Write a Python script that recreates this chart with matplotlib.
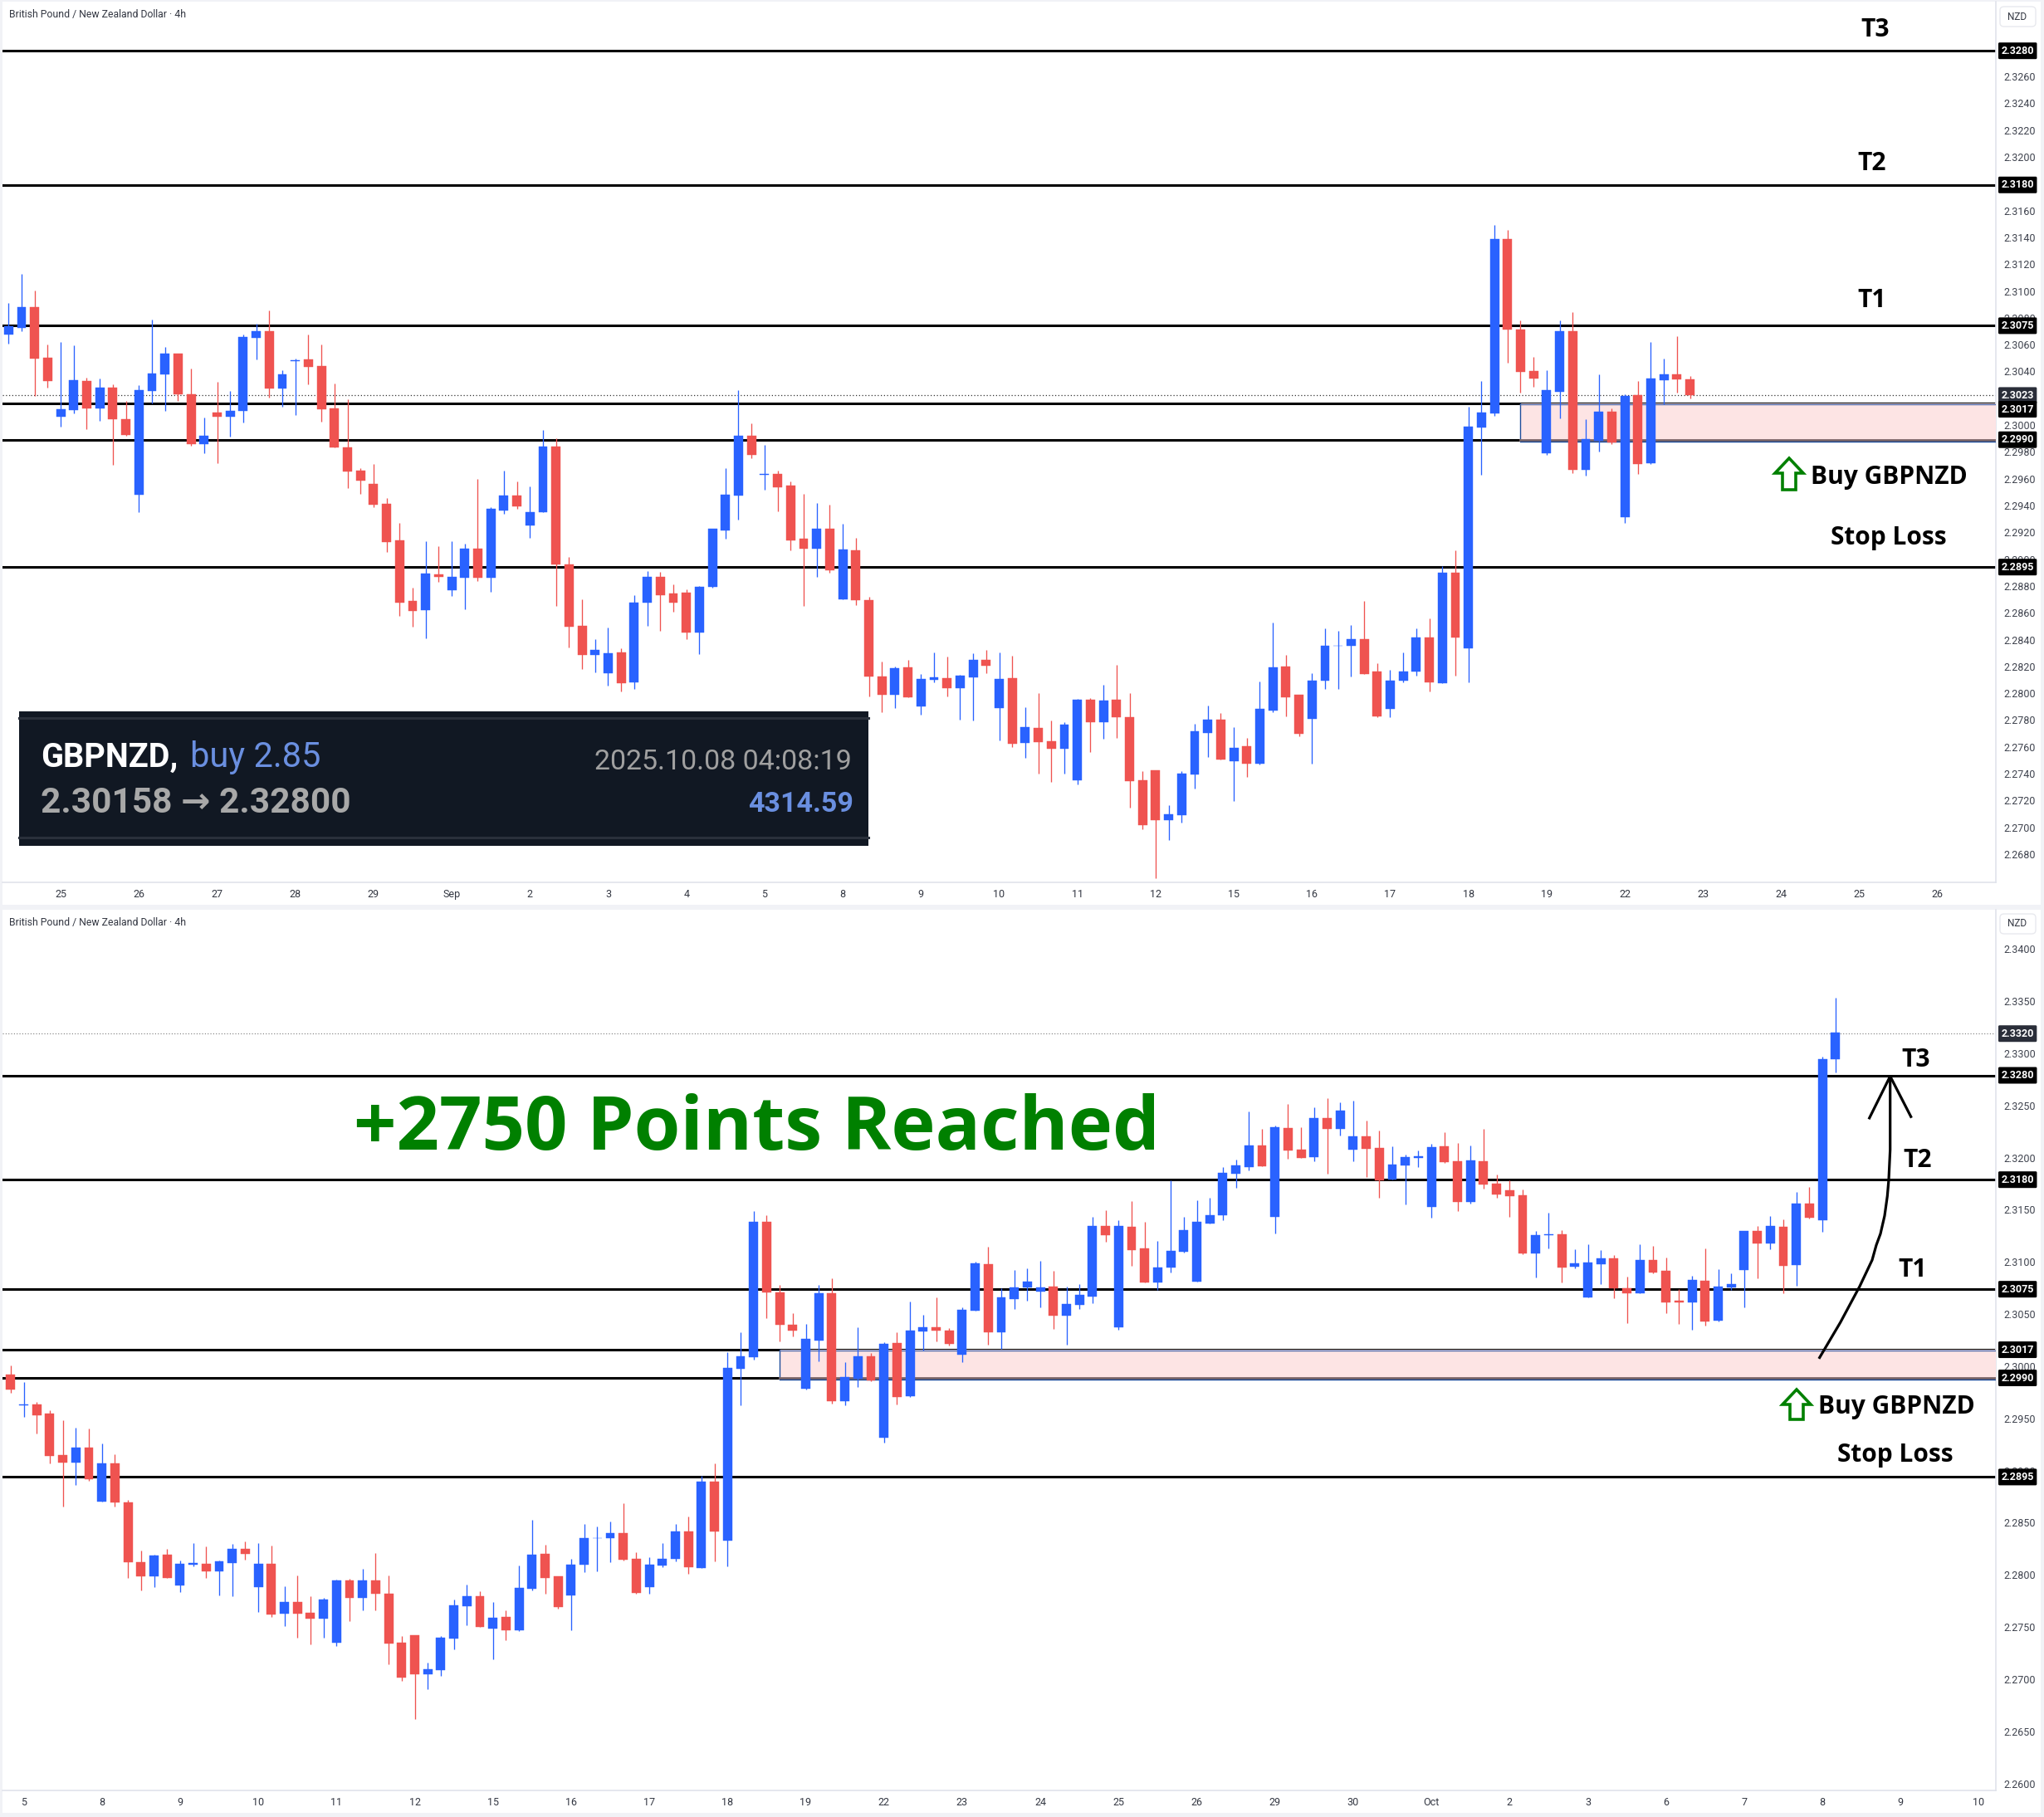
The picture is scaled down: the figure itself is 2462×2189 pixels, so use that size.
import matplotlib
matplotlib.use("Agg")
import matplotlib.pyplot as plt
from matplotlib.lines import Line2D
from matplotlib.patches import Rectangle, Polygon, FancyBboxPatch

W, H = 2462, 2189
UP, DOWN = "#2962ff", "#ef5350"
GREEN = "#008000"

# GBPNZD 4h candles, prices in points (1e-5)
highs = [
230918,231135,231011,230609,230626,230602,230361,230354,230312,230189,
230306,230794,230591,230540,230430,230065,230330,230262,230684,230763,
230863,230416,230502,230684,230609,230317,230200,229687,229718,229464,
229278,228796,229141,229106,229141,229123,229605,229395,229667,229588,
229550,229972,229910,229024,228712,228413,228501,228344,228743,228921,
228917,228824,228784,228812,229233,229686,230271,230021,229860,229667,
229587,229494,229425,229418,229271,229171,228727,228247,228209,228259,
228152,228313,228283,228147,228309,228332,228313,228290,227905,228010,
227805,227793,227967,227974,228071,228221,228010,227428,227436,227172,
227428,227779,227915,227859,227755,227675,228098,228538,228298,227995,
228162,228496,228472,228520,228699,228231,228181,228316,228496,228569,
228959,229078,230147,230338,231500,231462,230790,230518,230419,230790,
230852,230055,230388,230135,230239,230338,230629,230504,230672,230374,
230579,231015,231157,230761,230935,230951,231023,230927,230777,230801,
231443,231506,231411,231594,231396,231214,231794,231444,231603,231627,
231921,231992,232453,232286,232318,232525,232302,232493,232580,232540,
232556,232366,232270,232119,232040,232080,232143,232254,232151,232127,
232286,231849,231794,231706,231309,231484,231317,231134,231182,231126,
231078,230872,231182,231166,231055,230753,230880,231142,230941,230903,
231309,231356,231451,231419,231683,231731,232976,233542]
opens = [
230684,230732,230887,230509,230069,230120,230337,230131,230286,230052,
229488,230262,230385,230540,230237,229866,230100,230069,230114,230657,
230708,230281,230485,230498,230447,230131,229842,229667,229570,229420,
229148,228697,228628,228894,228776,228869,229086,228869,229371,229481,
229260,229358,229848,228969,228513,228294,228159,228313,228090,228686,
228879,228755,228760,228463,228805,229226,229482,229929,229636,229644,
229556,229159,229090,229233,228712,229078,228705,228135,227998,228202,
227910,228109,228121,228047,228128,228259,227898,228121,227637,227751,
227651,227594,227359,227960,227793,227960,227829,227359,227436,227061,
227101,227404,227715,227811,227500,227612,227484,227883,228210,227995,
227819,228106,228361,228361,228415,228169,227895,228101,228169,228427,
228082,228905,228342,229991,230097,231396,230722,230412,229799,230258,
230710,229676,229891,230109,229324,230232,229726,230343,230388,230350,
230126,230547,230991,230341,230658,230769,230729,230777,230499,230602,
230682,231356,230388,231348,231142,230816,230959,231110,230824,231380,
231460,231857,231921,232127,231444,232294,232088,232016,232389,232286,
232088,232215,232103,231801,231937,232008,231539,232119,231976,231587,
231976,231762,231698,231651,231094,231269,231277,230967,230673,230991,
231047,230761,230713,231031,230927,230641,230626,230832,230450,230768,
230935,231309,231190,231347,230982,231570,231413,232954]
closes = [
230746,230887,230502,230337,230127,230343,230131,230286,230052,229935,
230268,230392,230540,230237,229866,229928,230069,230114,230664,230708,
230281,230385,230491,230441,230127,229842,229663,229594,229415,229137,
228684,228622,228900,228876,228876,229086,228869,229384,229481,229402,
229358,229848,228969,228505,228294,228332,228309,228085,228686,228874,
228743,228686,228463,228805,229233,229487,229929,229786,229644,229544,
229152,229090,229233,228929,229083,228705,228135,227998,228197,227979,
228116,228128,228047,228140,228259,228216,228116,227632,227755,227644,
227594,227774,227960,227793,227955,227829,227352,227024,227061,227109,
227412,227723,227811,227516,227604,227484,227891,228202,227979,227707,
228106,228361,228366,228415,228155,227839,228106,228169,228427,228089,
228905,228427,229998,230104,231396,230722,230407,230357,230270,230710,
229676,229906,230109,229880,230227,229719,230357,230388,230350,230230,
230555,230999,230341,230674,230769,230824,230769,230499,230610,230698,
231356,231269,231356,231126,230816,230959,231118,231317,231396,231460,
231865,231937,232127,231929,232302,232080,232008,232389,232286,232461,
232215,232095,231794,231945,232016,232024,232111,231968,231587,231984,
231754,231658,231643,231094,231269,231277,230959,230999,231007,231047,
230761,230713,231031,230912,230626,230626,230840,230443,230774,230800,
231309,231190,231356,230973,231570,231435,232954,233209]
lows = [
230615,230708,230228,230286,229996,230096,229976,230038,229711,229928,
229358,230169,230114,230189,229853,229797,229725,229921,230027,230498,
230213,230144,230083,230312,230034,229842,229539,229495,229395,229062,
228584,228505,228418,228838,228734,228635,228845,228765,229347,229384,
229168,229358,228659,228350,228190,228166,228066,228021,228040,228513,
228475,228617,228413,228302,228798,229164,229306,229760,229525,229363,
229078,228663,228874,228910,228712,228667,227986,227867,227898,227979,
227848,228093,227986,227812,227805,228159,227656,227606,227525,227413,
227347,227409,227328,227570,227670,227675,227154,226998,226630,226917,
227045,227300,227532,227516,227204,227388,227476,227867,227835,227691,
227484,228039,228044,228136,228150,227831,227831,228089,228143,228020,
228082,228143,228094,229641,230078,230473,230251,230296,229787,230059,
229652,229634,229813,229868,229281,229645,229719,230163,230251,230208,
230055,230547,230222,230182,230563,230642,230579,230372,230222,230563,
230618,231205,230364,230975,230816,230745,230912,231102,230824,231380,
231412,231722,231889,231929,231285,232000,232008,231976,231857,232223,
231976,231825,231627,231801,231563,231921,231436,231960,231500,231571,
231714,231627,231444,231086,230864,231142,230816,230951,230673,230800,
230665,230427,230713,230904,230522,230419,230363,230403,230441,230743,
230579,230856,231133,230711,230784,231429,231300,232828]

# slices of the candle series shown in each panel
top_first, top_last = 0, 129
bottom_first, bottom_last = 57, 197

# levels
levels = [2.3280, 2.3180, 2.3075, 2.3017, 2.2990, 2.2895]
zone_low, zone_high = 2.2990, 2.3017
zone_start = 116
top_last_price = 2.3023
bottom_last_price = 2.3320

top_dates = ["25","26","27","28","29","Sep","2","3","4","5","8","9","10","11",
             "12","15","16","17","18","19","22","23","24","25","26"]
bottom_dates = ["5","8","9","10","11","12","15","16","17","18","19","22","23","24",
                "25","26","29","30","Oct","2","3","6","7","8","9","10"]
top_ticks = [2.2680,2.2700,2.2720,2.2740,2.2760,2.2780,2.2800,2.2820,2.2840,2.2860,2.2880,
             2.2900,2.2920,2.2940,2.2960,2.2980,2.3000,2.3040,2.3060,2.3080,2.3100,2.3120,
             2.3140,2.3160,2.3200,2.3220,2.3240,2.3260]
bottom_ticks = [2.2600,2.2650,2.2700,2.2750,2.2800,2.2850,2.2900,2.2950,2.3000,2.3050,
                2.3100,2.3150,2.3200,2.3250,2.3300,2.3350,2.3400]

plt.rcParams["font.family"] = ["Roboto", "DejaVu Sans"]
fig = plt.figure(figsize=(W/100, H/100), dpi=100, facecolor="#f1f2f6")

def fx(x): return x / W
def fy(y): return 1 - y / H
def ftext(x, y, s, **kw):
    return fig.text(fx(x), fy(y), s, **kw)

# white panels
for (x0, y0, x1, y1) in [(3, 2, 2458, 1090), (3, 1096, 2458, 2184)]:
    fig.add_artist(Rectangle((fx(x0), fy(y1)), fx(x1-x0), (y1-y0)/H, transform=fig.transFigure,
                             fc="white", ec="none", zorder=-5))

def make_axes(top_px, bottom_px, x0_px, first, p_ref, y_ref, slope, ticks, dates, first_tick):
    left, right = 3, 2404
    ax = fig.add_axes([fx(left), fy(bottom_px), (right-left)/W, (bottom_px-top_px)/H])
    ax.patch.set_alpha(0)
    step = 15.7
    ax.set_xlim((left-x0_px)/step, (right-x0_px)/step)
    ax.set_ylim(p_ref-(bottom_px-y_ref)/slope, p_ref+(y_ref-top_px)/slope)
    for s in ("top", "left"):
        ax.spines[s].set_visible(False)
    ax.spines["right"].set_color("#e0e3eb")
    ax.spines["bottom"].set_color("#e0e3eb")
    ax.spines["right"].set_linewidth(1.2)
    ax.spines["bottom"].set_linewidth(1.2)
    ax.yaxis.tick_right()
    ax.set_yticks(ticks)
    ax.set_yticklabels([f"{t:.4f}" for t in ticks])
    ax.set_xticks([first_tick + 6*k for k in range(len(dates))])
    ax.set_xticklabels(dates)
    ax.tick_params(axis="y", length=0, pad=6.5, labelsize=9, labelcolor="#3f434e")
    ax.tick_params(axis="x", length=0, pad=6, labelsize=9, labelcolor="#333742")
    for lbl in ax.get_yticklabels():
        lbl.set_verticalalignment("center")
    return ax

def draw_candles(ax, a, b, offset):
    for i in range(a, b+1):
        o, c, hi, lo = opens[i]/1e5, closes[i]/1e5, highs[i]/1e5, lows[i]/1e5
        col = UP if c >= o else DOWN
        x = i - offset
        ax.vlines(x, lo, hi, color=col, lw=0.95, zorder=5)
        ax.bar(x, abs(c-o), bottom=min(o, c), width=0.7, color=col, edgecolor=col,
               linewidth=0.3, zorder=6)

def draw_levels(ax, offset, px):
    for lv in levels:
        ax.axhline(lv, color="black", lw=2.2, zorder=2)
    xr = ax.get_xlim()[1]
    xs = zone_start - offset
    ax.add_patch(Rectangle((xs, zone_low), xr-xs, zone_high-zone_low, fc="#fde4e4", ec="none", zorder=3))
    ax.plot([xs, xs], [zone_high, zone_low], color="#1f4e9c", lw=1.0, zorder=3.2)
    ax.plot([xs, xr], [zone_high-0.7*px, zone_high-0.7*px], color="#4a68a8", lw=1.0, zorder=3.2)
    ax.plot([xs, xr], [zone_low, zone_low], color="#7c6668", lw=2.0, zorder=3.3)
    ax.plot([xs, xr], [zone_low-1.9*px, zone_low-1.9*px], color="#1f4e9c", lw=1.0, zorder=3.4)

def tag(ax, price, label, bg="black", pos=None):
    ax.text(1.0027, pos if pos is not None else price, label,
            transform=ax.get_yaxis_transform(), clip_on=False, ha="left", va="center",
            fontsize=9, fontweight="bold", color="white", zorder=20,
            bbox=dict(boxstyle="round,pad=0.28,rounding_size=0.12", fc=bg, ec="none"))

def nzd(y):
    fig.add_artist(FancyBboxPatch((fx(2409), fy(y+12)), fx(43), 24/H, transform=fig.transFigure,
                   boxstyle="round,pad=0,rounding_size=0.002", fc="white", ec="#e8e9ee", lw=1))
    ftext(2430, y, "NZD", ha="center", va="center", fontsize=8.5, color="#333742")

# ---- top panel
ax1 = make_axes(2, 1063, 10.3, 0, 2.3280, 61.2, 16156, top_ticks, top_dates, 4)
draw_levels(ax1, 0, 1/16156)
ax1.axhline(top_last_price, color="#333333", lw=0.9, ls=(0, (1, 2)), zorder=2)
draw_candles(ax1, top_first, top_last, 0)
for p in (2.3280, 2.3180, 2.3075, 2.2990, 2.2895):
    tag(ax1, p, f"{p:.4f}")
tag(ax1, top_last_price, f"{top_last_price:.4f}", bg="#2a2e39")
tag(ax1, 2.3017, "2.3017", pos=2.30127)

# ---- bottom panel
ax2 = make_axes(1096, 2157, 12.8, 0, 2.3280, 1295.5, 12569, bottom_ticks, bottom_dates, 1)
draw_levels(ax2, bottom_first, 1/12569)
ax2.axhline(bottom_last_price, color="#777777", lw=0.8, ls=(0, (1, 2)), zorder=2)
draw_candles(ax2, bottom_first, bottom_last, bottom_first)
for p in levels:
    tag(ax2, p, f"{p:.4f}")
tag(ax2, bottom_last_price, f"{bottom_last_price:.4f}", bg="#2a2e39")

nzd(20); nzd(1113)

title = "British Pound / New Zealand Dollar · 4h"
ftext(11, 18, title, fontsize=8.8, color="#333742", ha="left", va="center")
ftext(11, 1111, title, fontsize=8.8, color="#333742", ha="left", va="center")

# ---- annotations
ann = dict(fontfamily=["Open Sans", "DejaVu Sans"], fontweight="bold", color="black",
           ha="center", va="center", zorder=30, fontsize=21.5)
for (x, y, s) in [(2259, 36.5, "T3"), (2255, 197, "T2"), (2255, 361.5, "T1"),
                  (2275.5, 575, "Buy GBPNZD"), (2274.5, 648, "Stop Loss"),
                  (2308, 1277, "T3"), (2310, 1397.5, "T2"), (2304, 1530, "T1"),
                  (2284.5, 1695, "Buy GBPNZD"), (2283, 1752.6, "Stop Loss")]:
    ftext(x, y, s, **ann)

ftext(912, 1362, "+2750 Points Reached", fontfamily=["Open Sans", "DejaVu Sans"], fontweight="bold",
      color=GREEN, fontsize=65, ha="center", va="center", zorder=30)

def up_arrow(cx, tip, head, bottom, hw, sw):
    pts = [(cx, tip), (cx+hw, head), (cx+sw, head), (cx+sw, bottom), (cx-sw, bottom), (cx-sw, head), (cx-hw, head)]
    fig.add_artist(Polygon([(fx(a), fy(b)) for a, b in pts], closed=True, transform=fig.transFigure,
                           fc="white", ec=GREEN, lw=2.6, zorder=30, joinstyle="miter"))
up_arrow(2155, 552, 570, 590, 17, 8)
up_arrow(2164, 1674, 1692, 1710, 17, 8)

curve = [(2191.7,1635.5),(2216.7,1593.2),(2240,1549.7),(2255,1518),(2260,1500),(2265,1486.4),
         (2270,1464.7),(2273.3,1441),(2275,1421),(2276.7,1385),(2276.7,1296.6)]
fig.add_artist(Line2D([fx(a) for a, b in curve], [fy(b) for a, b in curve], transform=fig.transFigure,
                      color="black", lw=2.3, zorder=30, solid_joinstyle="round"))
head = [(2251.7,1346.9),(2276.7,1296.6),(2301.7,1345.3)]
fig.add_artist(Line2D([fx(a) for a, b in head], [fy(b) for a, b in head], transform=fig.transFigure,
                      color="black", lw=2.3, zorder=30))

# ---- result box
fig.add_artist(Rectangle((fx(23), fy(1019)), fx(1023), 162/H, transform=fig.transFigure,
                         fc="#111823", ec="none", zorder=25))
for y in (865, 1009):
    fig.add_artist(Line2D([fx(23), fx(1046)], [fy(y), fy(y)], transform=fig.transFigure,
                          color="#2a303b", lw=2.2, zorder=26))
base = dict(va="baseline", zorder=27)
ftext(49, 924, "GBPNZD,", color="white", fontweight="bold", fontsize=28.5, ha="left", **base)
ftext(229, 924, "buy 2.85", color="#6a8fe0", fontsize=30, ha="left", **base)
ftext(49, 979, "2.30158 → 2.32800", color="#a8a8a8", fontweight="bold", fontsize=30.5, ha="left", **base)
ftext(1026, 927, "2025.10.08 04:08:19", color="#a0a0a0", fontsize=24.5, ha="right", **base)
ftext(1028, 978, "4314.59", color="#6a8fe0", fontweight="bold", fontsize=24.5, ha="right", **base)

fig.savefig("out.png", dpi=100, facecolor=fig.get_facecolor())
